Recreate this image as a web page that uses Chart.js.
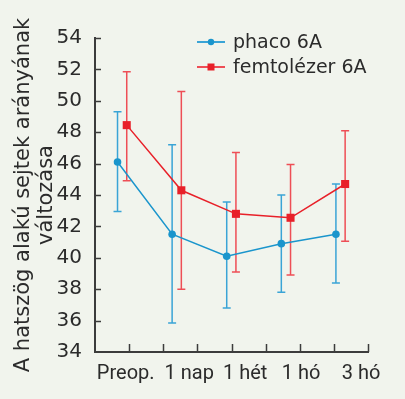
<!DOCTYPE html>
<html>
<head>
<meta charset="utf-8">
<script src="https://cdn.jsdelivr.net/npm/chart.js@4.4.1/dist/chart.umd.min.js"></script>
<style>
  html, body { margin: 0; padding: 0; background: #f1f4ed; }
  #wrap { width: 405px; height: 399px; }
</style>
</head>
<body>
<div id="wrap"><canvas id="chart" width="405" height="399"></canvas></div>
<script>
const categories = ['Preop.', '1 nap', '1 hét', '1 hó', '3 hó'];
const phacoMean = [46.1, 41.5, 40.1, 40.9, 41.5];
const phacoUpper = [49.3, 47.2, 43.55, 44.0, 44.7];
const phacoLower = [42.95, 35.85, 36.8, 37.8, 38.4];
const femtoMean = [48.45, 44.3, 42.8, 42.55, 44.7];
const femtoUpper = [51.85, 50.6, 46.7, 45.95, 48.1];
const femtoLower = [44.9, 38.0, 39.1, 38.9, 41.05];
const yTicks = [34, 36, 38, 40, 42, 44, 46, 48, 50, 52, 54];

const seriesNames = ['phaco 6A', 'femtolézer 6A'];
const blue = '#1a95cc';
const red = '#e82029';
const axisColor = '#3c3c3c';
const textColor = '#2b2b2b';
const wideFont = "'DejaVu Sans'";

// x axis runs 0..8, categories sit every 1.6 units, series nudged apart
const catPos = i => 0.8 + 1.6 * i;
const labelPos = [0.9, 2.76, 4.4, 6.04, 7.8];
const xTickMarks = [1, 2, 3, 4, 5, 6, 7, 8];

Chart.defaults.font.family = 'Roboto';
Chart.defaults.color = textColor;

const errorBars = {
  id: 'errorBars',
  beforeDatasetsDraw(chart) {
    const { ctx, scales: { y } } = chart;
    chart.data.datasets.forEach((ds, di) => {
      const meta = chart.getDatasetMeta(di);
      ctx.save();
      ctx.strokeStyle = ds.errColor;
      ctx.lineWidth = 1.5;
      meta.data.forEach((pt, i) => {
        const top = y.getPixelForValue(ds.errUpper[i]);
        const bot = y.getPixelForValue(ds.errLower[i]);
        ctx.beginPath();
        ctx.moveTo(pt.x, top); ctx.lineTo(pt.x, bot);
        ctx.moveTo(pt.x - 4, top); ctx.lineTo(pt.x + 4, top);
        ctx.moveTo(pt.x - 4, bot); ctx.lineTo(pt.x + 4, bot);
        ctx.stroke();
      });
      ctx.restore();
    });
  }
};

const innerTicks = {
  id: 'innerTicks',
  afterDraw(chart) {
    const { ctx, chartArea, scales: { x, y } } = chart;
    ctx.save();
    ctx.strokeStyle = axisColor;
    ctx.lineWidth = 1.5;
    ctx.beginPath();
    xTickMarks.forEach(v => {
      const px = Math.round(x.getPixelForValue(v)) + 0.5;
      ctx.moveTo(px, chartArea.bottom);
      ctx.lineTo(px, chartArea.bottom - 8);
    });
    yTicks.slice(1).forEach(v => {
      const py = Math.round(y.getPixelForValue(v)) + 0.5;
      ctx.moveTo(chartArea.left, py);
      ctx.lineTo(chartArea.left + 6, py);
    });
    ctx.stroke();
    ctx.restore();
  }
};

const legendBox = {
  id: 'legendBox',
  afterDraw(chart) {
    const { ctx } = chart;
    ctx.save();
    chart.data.datasets.forEach((ds, i) => {
      const yy = 42 + i * 25;
      ctx.strokeStyle = ds.errColor;
      ctx.lineWidth = 2;
      ctx.beginPath();
      ctx.moveTo(197, yy); ctx.lineTo(225, yy);
      ctx.stroke();
      ctx.fillStyle = ds.pointBackgroundColor;
      if (ds.pointStyle === 'circle') {
        ctx.beginPath(); ctx.arc(211, yy, 3.2, 0, Math.PI * 2); ctx.fill();
      } else {
        ctx.fillRect(207.5, yy - 3.5, 7, 7);
      }
      ctx.fillStyle = textColor;
      ctx.font = '19px ' + wideFont;
      ctx.textBaseline = 'middle';
      ctx.fillText(ds.label, 233, yy + 1);
    });
    ctx.restore();
  }
};

new Chart(document.getElementById('chart'), {
  type: 'line',
  data: {
    datasets: [
      {
        label: seriesNames[0],
        data: phacoMean.map((v, i) => ({ x: catPos(i) - 0.14, y: v })),
        errUpper: phacoUpper,
        errLower: phacoLower,
        errColor: '#3aa4d6',
        borderColor: blue,
        borderWidth: 1.5,
        pointStyle: 'circle',
        pointRadius: 3.8,
        pointBackgroundColor: blue,
        pointBorderWidth: 0,
        tension: 0
      },
      {
        label: seriesNames[1],
        data: femtoMean.map((v, i) => ({ x: catPos(i) + 0.13, y: v })),
        errUpper: femtoUpper,
        errLower: femtoLower,
        errColor: '#ee4e56',
        borderColor: red,
        borderWidth: 1.5,
        pointStyle: 'rect',
        pointRadius: 5.7,
        pointBackgroundColor: red,
        pointBorderWidth: 0,
        tension: 0
      }
    ]
  },
  options: {
    responsive: false,
    animation: false,
    devicePixelRatio: 1,
    layout: { padding: { top: 38, right: 37, left: 0, bottom: 0 } },
    plugins: { legend: { display: false }, tooltip: { enabled: false } },
    scales: {
      x: {
        type: 'linear',
        min: 0,
        max: 8,
        afterBuildTicks: scale => { scale.ticks = labelPos.map(v => ({ value: v })); },
        afterFit: scale => { scale.height = 47; },
        ticks: {
          autoSkip: false,
          maxRotation: 0,
          padding: 2,
          font: { size: 20 },
          color: textColor,
          callback: (v, i) => categories[i]
        },
        grid: { display: false },
        border: { display: true, color: axisColor, width: 2 }
      },
      y: {
        min: 34,
        max: 54,
        afterBuildTicks: scale => { scale.ticks = yTicks.map(v => ({ value: v })); },
        afterFit: scale => { scale.width = 95; },
        ticks: { padding: 5, font: { size: 20, family: wideFont }, color: textColor },
        grid: { display: false },
        border: { display: true, color: axisColor, width: 2 },
        title: {
          display: true,
          text: ['A hatszög alakú sejtek arányának', 'változása'],
          font: { size: 21, lineHeight: 1.1, family: wideFont },
          color: textColor,
          padding: { top: 12, bottom: 0 }
        }
      }
    }
  },
  plugins: [errorBars, innerTicks, legendBox]
});
</script>
</body>
</html>
